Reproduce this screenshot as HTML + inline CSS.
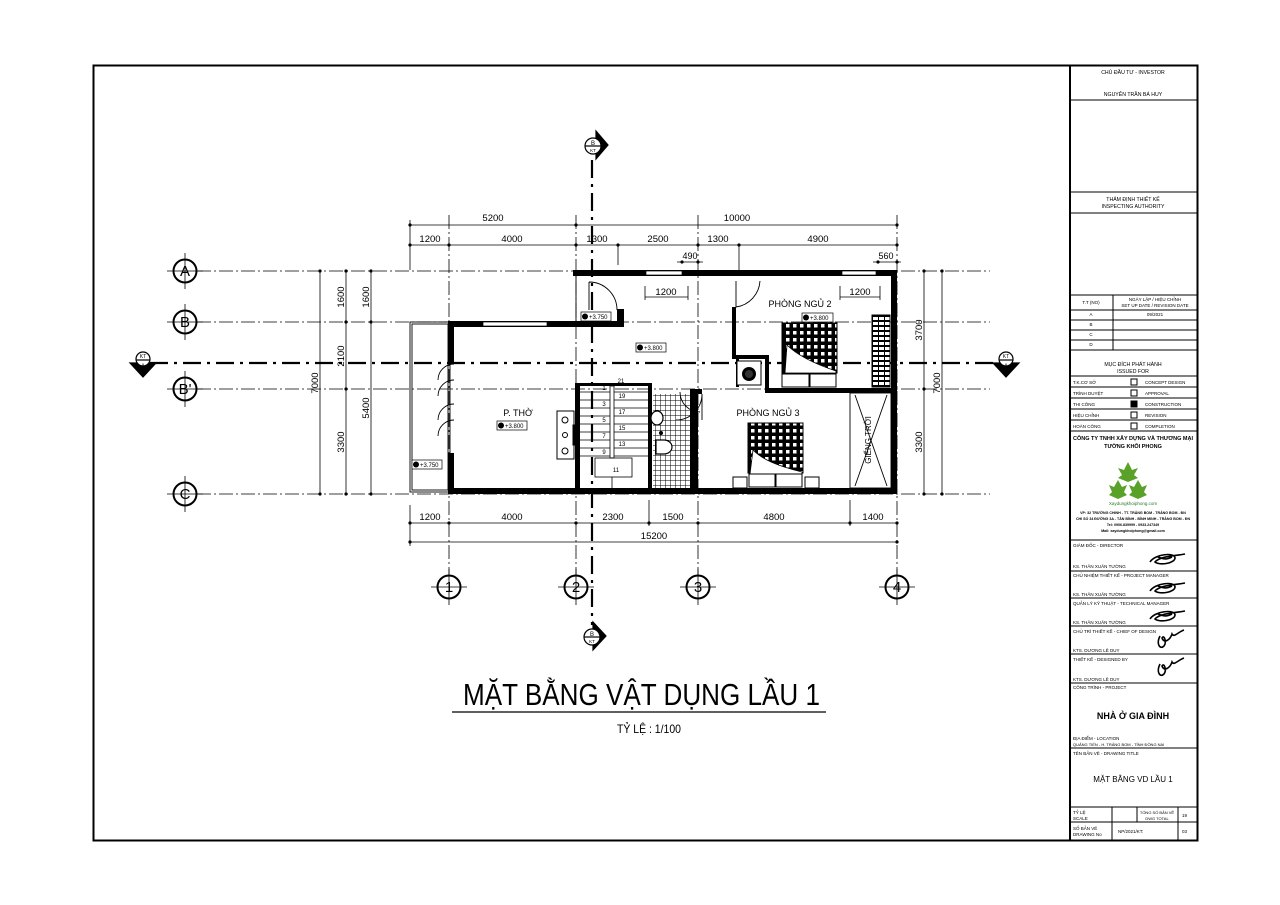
<!DOCTYPE html>
<html><head><meta charset="utf-8"><style>
html,body{margin:0;padding:0;background:#fff;}
svg{display:block;}
text{font-family:"Liberation Sans","DejaVu Sans",sans-serif;fill:#000;}
.n{font-family:"Liberation Sans Narrow","Liberation Sans",sans-serif;}
</style></head><body>
<svg width="1280" height="905" viewBox="0 0 1280 905" xmlns="http://www.w3.org/2000/svg">
<defs>
<pattern id="tile" width="5" height="5" patternUnits="userSpaceOnUse"><path d="M0 0H5M0 0V5" stroke="#000" stroke-width="1" fill="none"/></pattern>
<pattern id="bed" width="7" height="7" patternUnits="userSpaceOnUse"><rect width="7" height="7" fill="#000"/><rect x="2" y="2" width="3.5" height="3.5" fill="#fff"/></pattern>
<pattern id="ward" width="6" height="5" patternUnits="userSpaceOnUse"><rect width="6" height="5" fill="#fff"/><rect x="0" y="0" width="6" height="2" fill="#000"/><rect x="2" y="2" width="1" height="3" fill="#000"/></pattern>
</defs>
<rect x="93.5" y="65.5" width="1104" height="775" fill="none" stroke="#000" stroke-width="2"/>
<line x1="1070" y1="65" x2="1070" y2="841" stroke="#000" stroke-width="2"/>

<g font-size="5.2" text-anchor="middle" stroke="none">
<text x="1133" y="74">CHỦ ĐẦU TƯ - INVESTOR</text>
<text x="1133" y="96">NGUYỄN TRẦN BÁ HUY</text>
<text x="1133" y="201">THẨM ĐỊNH THIẾT KẾ</text>
<text x="1133" y="208">INSPECTING AUTHORITY</text>
<text x="1091" y="304" font-size="4.5">T.T (NO)</text>
<text x="1155" y="301" font-size="4.5">NGÀY LẬP / HIỆU CHỈNH</text>
<text x="1155" y="307" font-size="4.5">SET UP DATE / REVISION DATE</text>
<text x="1091" y="316" font-size="4.5">A</text><text x="1155" y="316" font-size="4.5">09/2021</text>
<text x="1091" y="326" font-size="4.5">B</text>
<text x="1091" y="336" font-size="4.5">C</text>
<text x="1091" y="346" font-size="4.5">D</text>
<text x="1133" y="366">MỤC ĐÍCH PHÁT HÀNH</text>
<text x="1133" y="373">ISSUED FOR</text>
</g>
<g font-size="4.5">
<text x="1073" y="384">T.K.CƠ SỞ</text><text x="1145" y="384">CONCEPT DESIGN</text>
<text x="1073" y="395">TRÌNH DUYỆT</text><text x="1145" y="395">APPROVAL</text>
<text x="1073" y="406">THI CÔNG</text><text x="1145" y="406">CONSTRUCTION</text>
<text x="1073" y="417">HIỆU CHỈNH</text><text x="1145" y="417">REVISION</text>
<text x="1073" y="428">HOÀN CÔNG</text><text x="1145" y="428">COMPLETION</text>
</g>
<g fill="#fff" stroke="#000" stroke-width="1">
<rect x="1131" y="379" width="6" height="6"/><rect x="1131" y="390" width="6" height="6"/><rect x="1131" y="401" width="6" height="6" fill="#000"/><rect x="1131" y="412" width="6" height="6"/><rect x="1131" y="423" width="6" height="6"/>
</g>
<g stroke="#000" stroke-width="1" fill="none">
<line x1="1070" y1="100" x2="1197" y2="100"/>
<line x1="1070" y1="192" x2="1197" y2="192"/>
<line x1="1070" y1="213" x2="1197" y2="213"/>
<line x1="1070" y1="295" x2="1197" y2="295"/>
<line x1="1070" y1="310" x2="1197" y2="310"/>
<line x1="1070" y1="320" x2="1197" y2="320"/>
<line x1="1070" y1="330" x2="1197" y2="330"/>
<line x1="1070" y1="340" x2="1197" y2="340"/>
<line x1="1070" y1="350" x2="1197" y2="350"/>
<line x1="1113" y1="295" x2="1113" y2="350"/>
<line x1="1070" y1="376" x2="1197" y2="376"/>
<line x1="1070" y1="387" x2="1197" y2="387"/>
<line x1="1070" y1="398" x2="1197" y2="398"/>
<line x1="1070" y1="409" x2="1197" y2="409"/>
<line x1="1070" y1="420" x2="1197" y2="420"/>
<line x1="1070" y1="431" x2="1197" y2="431"/>
<line x1="1070" y1="540" x2="1197" y2="540"/>
<line x1="1070" y1="571" x2="1197" y2="571"/>
<line x1="1070" y1="598" x2="1197" y2="598"/>
<line x1="1070" y1="626" x2="1197" y2="626"/>
<line x1="1070" y1="654" x2="1197" y2="654"/>
<line x1="1070" y1="683" x2="1197" y2="683"/>
<line x1="1070" y1="748" x2="1197" y2="748"/>
<line x1="1070" y1="807" x2="1197" y2="807"/>
<line x1="1070" y1="822" x2="1197" y2="822"/>
<line x1="1112" y1="807" x2="1112" y2="841"/>
<line x1="1137" y1="807" x2="1137" y2="822"/>
<line x1="1178" y1="807" x2="1178" y2="841"/>
</g>
<g font-size="5.5" font-weight="bold" text-anchor="middle">
<text x="1133" y="440">CÔNG TY TNHH XÂY DỰNG VÀ THƯƠNG MẠI</text>
<text x="1133" y="448">TƯỜNG KHÔI PHONG</text>
</g>
<g fill="#5aa12a">
<polygon points="1128,462 1132,470 1138,468 1134,475 1138,478 1128,482 1118,478 1122,475 1118,468 1124,470"/>
<polygon points="1118,480 1122,487 1127,485 1124,492 1127,495 1118,499 1109,495 1112,492 1109,485 1114,487"/>
<polygon points="1138,480 1142,487 1147,485 1144,492 1147,495 1138,499 1129,495 1132,492 1129,485 1134,487"/>
</g>
<text x="1133" y="505" font-size="4.5" text-anchor="middle" font-family="Liberation Serif" style="fill:#2a7a2a">Xaydungkhoiphong.com</text>
<g font-size="3.6" font-weight="bold" text-anchor="middle">
<text x="1133" y="514">VP: 32 TRƯỜNG CHINH - TT. TRẢNG BOM - TRẢNG BOM - ĐN</text>
<text x="1133" y="520">CHI SỐ 34 ĐƯỜNG 3A - TÂN BÌNH - BÌNH MINH - TRẢNG BOM - ĐN</text>
<text x="1133" y="526">Tel: 0906.839999 - 0933.247349</text>
<text x="1133" y="532">Mail: xaydungkhoiphong@gmail.com</text>
</g>
<g font-size="4.5">
<text x="1073" y="547">GIÁM ĐỐC - DIRECTOR</text><text x="1073" y="568">KS. THÂN XUÂN TƯỜNG</text>
<text x="1073" y="577">CHỦ NHIỆM THIẾT KẾ - PROJECT MANAGER</text><text x="1073" y="596">KS. THÂN XUÂN TƯỜNG</text>
<text x="1073" y="605">QUẢN LÝ KỸ THUẬT - TECHNICAL MANAGER</text><text x="1073" y="624">KS. THÂN XUÂN TƯỜNG</text>
<text x="1073" y="633">CHỦ TRÌ THIẾT KẾ - CHIEF OF DESIGN</text><text x="1073" y="652">KTS. DƯƠNG LÊ DUY</text>
<text x="1073" y="661">THIẾT KẾ - DESIGNED BY</text><text x="1073" y="681">KTS. DƯƠNG LÊ DUY</text>
<text x="1073" y="689">CÔNG TRÌNH - PROJECT</text>
<text x="1073" y="740">ĐỊA ĐIỂM - LOCATION</text>
<text x="1073" y="746" font-size="4">QUẢNG TIẾN - H. TRẢNG BOM - TỈNH ĐỒNG NAI</text>
<text x="1073" y="755">TÊN BẢN VẼ - DRAWING TITLE</text>
<text x="1073" y="814">TỶ LỆ</text><text x="1073" y="820">SCALE</text>
<text x="1073" y="830">SỐ BẢN VẼ</text><text x="1073" y="836">DRAWING No</text>
<text x="1157" y="814" font-size="4" text-anchor="middle">TỔNG SỐ BẢN VẼ</text><text x="1157" y="820" font-size="4" text-anchor="middle">DWG TOTAL</text>
<text x="1182" y="817">19</text>
<text x="1118" y="833">NP/2021/KT:</text>
<text x="1182" y="833">03</text>
</g>
<g fill="none" stroke="#000" stroke-width="1.6">
<path d="M1150 562c5-8 25-10 25-4c0 5-15 8-20 4c5-6 20-6 30-8M1158 557c5 2 8 3 14 0"/>
<path d="M1150 591c5-8 25-10 25-4c0 5-15 8-20 4c5-6 20-6 30-8M1158 586c5 2 8 3 14 0"/>
<path d="M1150 619c5-8 25-10 25-4c0 5-15 8-20 4c5-6 20-6 30-8M1158 614c5 2 8 3 14 0"/>
<path d="M1160 636c-4 8 0 14 4 10c3-4 0-12-2-8c2 6 8 2 10-4c2 4 6-2 12-4"/>
<path d="M1160 664c-4 8 0 14 4 10c3-4 0-12-2-8c2 6 8 2 10-4c2 4 6-2 12-4"/>
</g>
<text x="1133" y="719" font-size="9" font-weight="bold" text-anchor="middle">NHÀ Ở GIA ĐÌNH</text>
<text x="1133" y="782" font-size="8" text-anchor="middle">MẶT BẰNG VD LẦU 1</text>

<g stroke="#000" stroke-width="0.8" stroke-dasharray="14 3 2 3" fill="none">
<line x1="197" y1="271" x2="990" y2="271"/>
<line x1="197" y1="322" x2="990" y2="322"/>
<line x1="197" y1="389" x2="990" y2="389"/>
<line x1="197" y1="494" x2="990" y2="494"/>
<line x1="449" y1="215" x2="449" y2="575"/>
<line x1="576" y1="215" x2="576" y2="575"/>
<line x1="698" y1="215" x2="698" y2="575"/>
<line x1="897" y1="215" x2="897" y2="575"/>
</g>
<g stroke="#000" stroke-width="2.2" stroke-dasharray="18 6 3 6" fill="none">
<line x1="150" y1="363" x2="998" y2="363"/>
<line x1="592" y1="160" x2="592" y2="625"/>
</g>
<g fill="#fff" stroke="#000" stroke-width="2">
<circle cx="185" cy="271" r="11.5"/><circle cx="185" cy="322" r="11.5"/><circle cx="185" cy="389" r="11.5"/><circle cx="185" cy="494" r="11.5"/>
<circle cx="449" cy="587" r="11.5"/><circle cx="576" cy="587" r="11.5"/><circle cx="698" cy="587" r="11.5"/><circle cx="897" cy="587" r="11.5"/>
</g>
<g stroke="#000" stroke-width="0.8">
<path d="M167 271h36M185 253v36M167 322h36M185 304v36M167 389h36M185 371v36M167 494h36M185 476v36"/>
<path d="M431 587h36M449 569v36M558 587h36M576 569v36M680 587h36M698 569v36M879 587h36M897 569v36"/>
</g>
<g font-size="15" text-anchor="middle" class="n">
<text x="185" y="276">A</text><text x="185" y="327">B</text><text x="185" y="394">B'</text><text x="185" y="499">C</text>
<text x="449" y="592">1</text><text x="576" y="592">2</text><text x="698" y="592">3</text><text x="897" y="592">4</text>
</g>
<g stroke="#000" stroke-width="1.2">
<polygon points="130,363 156,363 143,377" fill="#000"/>
<circle cx="143" cy="359" r="7" fill="#fff"/><line x1="136" y1="360" x2="150" y2="360"/>
<polygon points="993,363 1019,363 1006,377" fill="#000"/>
<circle cx="1006" cy="359" r="7" fill="#fff"/><line x1="999" y1="360" x2="1013" y2="360"/>
<polygon points="596,131 608,145 596,159" fill="#000"/>
<circle cx="593" cy="146" r="8" fill="#fff"/><line x1="585" y1="146" x2="601" y2="146"/>
<polygon points="593,622 606,636 593,650" fill="#000"/>
<circle cx="592" cy="637" r="8" fill="#fff"/><line x1="584" y1="637" x2="600" y2="637"/>
</g>
<g font-size="5" text-anchor="middle">
<text x="143" y="358">KT</text><text x="143" y="368" font-size="6">A</text>
<text x="1006" y="358">KT</text><text x="1006" y="368" font-size="6">A</text>
<text x="593" y="145" font-size="6">B</text><text x="593" y="152" font-size="4.5">KT</text>
<text x="592" y="636" font-size="6">B</text><text x="592" y="643" font-size="4.5">KT</text>
</g>

<g stroke="#000" stroke-width="0.8" fill="none">
<line x1="410" y1="225" x2="897" y2="225"/>
<line x1="410" y1="245" x2="897" y2="245"/>
<line x1="410" y1="220" x2="410" y2="270"/>
<line x1="618" y1="245" x2="618" y2="265"/><line x1="739" y1="245" x2="739" y2="270"/>
<line x1="677" y1="262" x2="703" y2="262"/><line x1="873" y1="262" x2="901" y2="262"/>
<line x1="410" y1="523" x2="897" y2="523"/>
<line x1="410" y1="542" x2="897" y2="542"/>
<line x1="410" y1="505" x2="410" y2="546"/>
<line x1="649" y1="500" x2="649" y2="526"/><line x1="850" y1="500" x2="850" y2="526"/>
<line x1="320" y1="271" x2="320" y2="494"/>
<line x1="346" y1="271" x2="346" y2="494"/>
<line x1="371" y1="271" x2="371" y2="494"/>
<line x1="924" y1="271" x2="924" y2="494"/>
<line x1="942" y1="271" x2="942" y2="494"/>
<line x1="645" y1="286" x2="645" y2="300"/><line x1="688" y1="286" x2="688" y2="300"/><line x1="645" y1="297" x2="688" y2="297"/>
<line x1="840" y1="286" x2="840" y2="300"/><line x1="880" y1="286" x2="880" y2="300"/><line x1="840" y1="297" x2="880" y2="297"/>
</g>
<g fill="#000">
<circle cx="410" cy="225" r="1.6"/><circle cx="576" cy="225" r="1.6"/><circle cx="897" cy="225" r="1.6"/>
<circle cx="410" cy="245" r="1.6"/><circle cx="449" cy="245" r="1.6"/><circle cx="576" cy="245" r="1.6"/><circle cx="618" cy="245" r="1.6"/><circle cx="698" cy="245" r="1.6"/><circle cx="739" cy="245" r="1.6"/><circle cx="897" cy="245" r="1.6"/>
<circle cx="682" cy="262" r="1.6"/><circle cx="698" cy="262" r="1.6"/><circle cx="878" cy="262" r="1.6"/><circle cx="897" cy="262" r="1.6"/>
<circle cx="410" cy="523" r="1.6"/><circle cx="449" cy="523" r="1.6"/><circle cx="576" cy="523" r="1.6"/><circle cx="649" cy="523" r="1.6"/><circle cx="698" cy="523" r="1.6"/><circle cx="850" cy="523" r="1.6"/><circle cx="897" cy="523" r="1.6"/>
<circle cx="410" cy="542" r="1.6"/><circle cx="897" cy="542" r="1.6"/>
<circle cx="320" cy="271" r="1.6"/><circle cx="320" cy="494" r="1.6"/>
<circle cx="346" cy="271" r="1.6"/><circle cx="346" cy="322" r="1.6"/><circle cx="346" cy="389" r="1.6"/><circle cx="346" cy="494" r="1.6"/>
<circle cx="371" cy="271" r="1.6"/><circle cx="371" cy="322" r="1.6"/><circle cx="371" cy="494" r="1.6"/>
<circle cx="924" cy="271" r="1.6"/><circle cx="924" cy="389" r="1.6"/><circle cx="924" cy="494" r="1.6"/>
<circle cx="942" cy="271" r="1.6"/><circle cx="942" cy="494" r="1.6"/>
</g>
<g font-size="9.5" text-anchor="middle" class="n">
<text x="493" y="221">5200</text><text x="737" y="221">10000</text>
<text x="430" y="242">1200</text><text x="512" y="242">4000</text><text x="597" y="242">1300</text><text x="658" y="242">2500</text><text x="718" y="242">1300</text><text x="818" y="242">4900</text>
<text x="690" y="259" font-size="9">490</text><text x="886" y="259" font-size="9">560</text>
<text x="666" y="295">1200</text><text x="860" y="295">1200</text>
<text x="430" y="520">1200</text><text x="512" y="520">4000</text><text x="613" y="520">2300</text><text x="673" y="520">1500</text><text x="774" y="520">4800</text><text x="873" y="520">1400</text>
<text x="654" y="539">15200</text>
<text transform="translate(318 383) rotate(-90)">7000</text>
<text transform="translate(344 297) rotate(-90)">1600</text>
<text transform="translate(344 356) rotate(-90)">2100</text>
<text transform="translate(344 442) rotate(-90)">3300</text>
<text transform="translate(369 297) rotate(-90)">1600</text>
<text transform="translate(369 408) rotate(-90)">5400</text>
<text transform="translate(922 330) rotate(-90)">3700</text>
<text transform="translate(922 442) rotate(-90)">3300</text>
<text transform="translate(940 383) rotate(-90)">7000</text>
</g>

<g fill="#000">
<rect x="573" y="270" width="324" height="6"/>
<rect x="891" y="270" width="6" height="224"/>
<rect x="448" y="488" width="449" height="6"/>
<rect x="448" y="321" width="6" height="43"/>
<rect x="448" y="453" width="6" height="41"/>
<rect x="448" y="321" width="175" height="6"/>
<rect x="617" y="309" width="7" height="18"/>
<rect x="575" y="383" width="5" height="108"/>
<rect x="575" y="383" width="75" height="3"/>
<rect x="648" y="383" width="4" height="108"/>
<rect x="690" y="389" width="8" height="101"/>
<rect x="690" y="389" width="12" height="5"/>
<rect x="732" y="307" width="4" height="52"/>
<rect x="732" y="355" width="37" height="4"/>
<rect x="765" y="355" width="4" height="37"/>
<rect x="765" y="388" width="126" height="5"/>
<rect x="736" y="357" width="3" height="30"/>
</g>
<g fill="#fff" stroke="#000" stroke-width="0.7">
<rect x="483" y="322" width="64" height="4"/>
<rect x="646" y="271" width="36" height="4"/>
<rect x="842" y="271" width="34" height="4"/>
</g>
<g fill="none" stroke="#000" stroke-width="0.9">
<rect x="410" y="322" width="40" height="170"/>
<rect x="412" y="324" width="36" height="166"/>
<line x1="576" y1="276" x2="576" y2="322"/>
<rect x="850" y="393" width="41" height="95"/>
<line x1="855" y1="395" x2="887" y2="486"/><line x1="887" y1="395" x2="855" y2="486"/>
<line x1="738" y1="360" x2="738" y2="386"/>
<path d="M589 282a28 28 0 0 1 28 28M589 282v28"/>
<path d="M760 281a28 28 0 0 1-24 26M736 281v26"/>
<path d="M702 394a26 26 0 0 1-26 26"/><path d="M702 394v26"/>
<path d="M454 364a16 16 0 0 0-16 16M454 380a16 16 0 0 0-16 16M454 404a16 16 0 0 0-16 16M454 420a16 16 0 0 0-16 16"/>
<path d="M680 392a20 20 0 0 0 20 20"/>
</g>
<g stroke="#000" stroke-width="0.8" fill="none">
<path d="M580 392h68M580 400h68M580 408h68M580 416h68M580 424h68M580 432h68M580 440h68M580 448h68M580 456h68"/>
<rect x="610" y="386" width="4" height="72" fill="#fff"/>
<rect x="595" y="458" width="37" height="19"/>
<line x1="612" y1="477" x2="612" y2="490"/>
</g>
<g font-size="6" text-anchor="middle" class="n">
<text x="604" y="390">1</text><text x="604" y="406">3</text><text x="604" y="422">5</text><text x="604" y="438">7</text><text x="604" y="454">9</text>
<text x="622" y="398">19</text><text x="622" y="414">17</text><text x="622" y="430">15</text><text x="622" y="446">13</text><text x="616" y="472">11</text><text x="621" y="383">21</text>
</g>
<g stroke="#000" fill="#fff" stroke-width="1">
<rect x="557" y="411" width="17" height="48"/>
<circle cx="565" cy="420" r="3"/><circle cx="565" cy="435" r="2.5"/><circle cx="565" cy="451" r="3"/>
<rect x="573" y="425" width="4" height="20" fill="#000"/>
</g>
<rect x="653" y="394" width="37" height="94" fill="url(#tile)"/>
<g fill="#fff" stroke="#000" stroke-width="1.2">
<ellipse cx="657" cy="418" rx="6" ry="7"/>
<path d="M656 440h8a8 7 0 0 1 0 14h-8z"/>
</g>
<rect x="782" y="323" width="55" height="50" fill="url(#bed)" stroke="#000"/>
<path d="M787 345c10 10 25 18 49 26L836 373H785z" fill="#fff" stroke="#000" stroke-width="0.8"/>
<g fill="#fff" stroke="#000"><rect x="782" y="374" width="27" height="13"/><rect x="810" y="374" width="26" height="13"/></g>
<rect x="872" y="315" width="18" height="72" fill="url(#ward)" stroke="#000"/>
<rect x="737" y="361" width="24" height="24" fill="#fff" stroke="#000"/><circle cx="749" cy="374" r="7" fill="#000"/><circle cx="749" cy="374" r="4" fill="#333"/>
<rect x="748" y="423" width="55" height="50" fill="url(#bed)" stroke="#000"/>
<path d="M753 450c10 10 25 16 49 22L802 474H750z" fill="#fff" stroke="#000" stroke-width="0.8"/>
<g fill="#fff" stroke="#000"><rect x="749" y="474" width="26" height="13"/><rect x="776" y="474" width="26" height="13"/>
<rect x="733" y="477" width="14" height="11"/><rect x="805" y="477" width="14" height="11"/></g>
<g fill="#fff" stroke="#000" stroke-width="0.7">
<rect x="497" y="421" width="30" height="9"/><rect x="636" y="343" width="30" height="9"/><rect x="802" y="313" width="31" height="9"/>
<rect x="581" y="312" width="30" height="9"/><rect x="412" y="460" width="30" height="9"/>
</g>
<g fill="#000"><circle cx="501" cy="425.5" r="3"/><circle cx="640" cy="347.5" r="3"/><circle cx="806" cy="317.5" r="3"/><circle cx="585" cy="316.5" r="3"/><circle cx="416" cy="464.5" r="3"/><circle cx="661" cy="433" r="2"/></g>
<g font-size="6" class="n">
<text x="505" y="428">+3.800</text><text x="644" y="350">+3.800</text><text x="810" y="320">+3.800</text><text x="589" y="319">+3.750</text><text x="420" y="467">+3.750</text>
</g>
<g font-size="9" text-anchor="middle" class="n">
<text x="518" y="416">P. THỜ</text>
<text x="800" y="307">PHÒNG NGỦ 2</text>
<text x="768" y="416">PHÒNG NGỦ 3</text>
<text transform="translate(871 440) rotate(-90)" font-size="8">GIẾNG TRỜI</text>
</g>

<text x="463" y="705" font-size="31" textLength="357" lengthAdjust="spacingAndGlyphs" class="n">MẶT BẰNG VẬT DỤNG LẦU 1</text>
<line x1="452" y1="712" x2="826" y2="712" stroke="#000" stroke-width="1.3"/>
<text x="617" y="733" font-size="12" textLength="64" lengthAdjust="spacingAndGlyphs" class="n">TỶ LỆ : 1/100</text>
</svg>
</body></html>
